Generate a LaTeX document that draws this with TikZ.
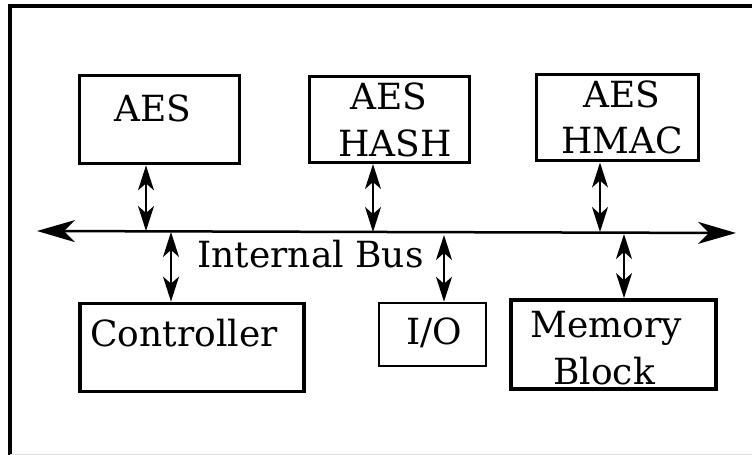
\documentclass[tikz,border=0pt]{standalone}
\usepackage{fontspec}
\setmainfont{DejaVu Serif}
\usetikzlibrary{arrows.meta}

\begin{document}
\begin{tikzpicture}[x=1bp,y=-1bp,
  blk/.style={draw,rectangle,line width=3.8bp,inner sep=0pt},
  thinblk/.style={blk,line width=3bp},
  lbl/.style={anchor=base,inner sep=0pt,font=\fontsize{36bp}{46bp}\selectfont},
  dbl/.style={<->,>={Stealth[length=25bp,width=16bp,inset=7bp]},line width=1.7bp},
  bus/.style={<->,>={Stealth[length=38bp,width=22bp,inset=11bp]},line width=2.5bp}]
\useasboundingbox (0,0) rectangle (752,455);

% frame
\draw[line width=3.5bp] (10,455) -- (10,6) -- (752,6);
\draw[gray!25,line width=1bp] (10,454) -- (752,454);

% nodes
\node[blk,minimum width=160bp,minimum height=88bp] (aes) at (159.5,119.5) {};
\node[lbl] (aesT) at (152.5,122) {AES};

\node[thinblk,minimum width=160bp,minimum height=86bp] (hash) at (389,119.5) {};
\node[lbl] (hashT1) at (388.5,110) {AES};
\node[lbl] (hashT2) at (395,157) {HASH};

\node[thinblk,minimum width=162bp,minimum height=86bp] (hmac) at (617,118) {};
\node[lbl] (hmacT1) at (621.5,108) {AES};
\node[lbl] (hmacT2) at (622,154) {HMAC};

\node[blk,minimum width=224bp,minimum height=88bp] (ctrl) at (192,347.5) {};
\node[lbl] (ctrlT) at (184,347) {Controller};

\node[thinblk,line width=2.5bp,minimum width=107bp,minimum height=63bp] (io) at (432.5,334.5) {};
\node[lbl] (ioT) at (434,345) {I/O};

\node[blk,minimum width=205bp,minimum height=89bp] (mem) at (613.5,344.5) {};
\node[lbl] (memT1) at (606,338) {Memory};
\node[lbl] (memT2) at (604,384) {Block};

% bus
\coordinate (busL) at (37,231);
\coordinate (busR) at (736,233);
\draw[bus] (busL) -- (busR);
\node[lbl] (busT) at (310.5,268) {Internal Bus};

\coordinate (tapA) at (146,231);
\coordinate (tapH) at (373,232);
\coordinate (tapM) at (600,232);
\coordinate (tapC) at (171,232);
\coordinate (tapI) at (444,235);
\coordinate (tapB) at (624,234);

% arrows
\draw[dbl] (aes.south -| tapA) -- (tapA);
\draw[dbl] (hash.south -| tapH) -- (tapH);
\draw[dbl] (hmac.south -| tapM) -- (tapM);
\draw[dbl] (tapC) -- (ctrl.north -| tapC);
\draw[dbl] (tapI) -- (io.north -| tapI);
\draw[dbl] (tapB) -- (mem.north -| tapB);
\end{tikzpicture}
\end{document}
